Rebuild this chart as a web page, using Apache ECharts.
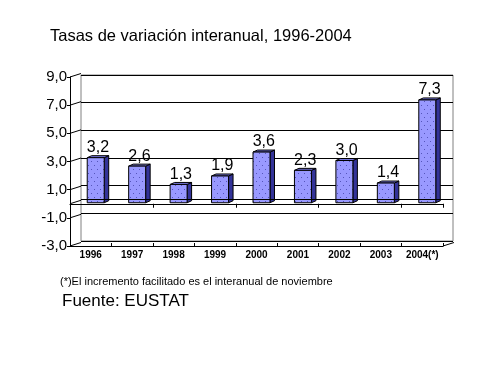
<!DOCTYPE html>
<html>
<head>
<meta charset="utf-8">
<script src="https://cdn.jsdelivr.net/npm/echarts@6/dist/echarts.min.js"></script>
<style>html,body{margin:0;padding:0;background:#fff;}#c{width:487px;height:387px;}</style>
</head>
<body>
<div id="c"></div>
<script>
const categories = ['1996','1997','1998','1999','2000','2001','2002','2003','2004(*)'];
const values = [3.2, 2.6, 1.3, 1.9, 3.6, 2.3, 3.0, 1.4, 7.3];
const yTicks = [-3, -1, 0, 1, 3, 5, 7, 9];
const titleText = 'Tasas de variación interanual, 1996-2004';
const noteText = '(*)El incremento facilitado es el interanual de noviembre';
const sourceText = 'Fuente: EUSTAT';

const FONT = '"Liberation Sans", Arial, sans-serif';
const fmt = v => v.toFixed(1).replace('.', ',');

// dotted fill pattern for the bar front faces
const pc = document.createElement('canvas');
pc.width = 6; pc.height = 8;
const pctx = pc.getContext('2d');
pctx.fillStyle = '#9999ff'; pctx.fillRect(0, 0, 6, 8);
pctx.fillStyle = '#5555bb';
pctx.fillRect(1, 1, 1, 1); pctx.fillRect(4, 5, 1, 1);

const DX = 4.5, DY = -2;     // bar depth projection
const SX = 5, SY = -1;       // bar placement at mid depth
const WX = 11, WY = -3.5;    // side wall depth projection

function renderBar(params, api) {
  const idx = api.value(0), v = api.value(1);
  const top = api.coord([idx, v]);
  const base = api.coord([idx, 0]);
  const w = api.size([1, 0])[0] * 0.41;
  const x0 = top[0] + SX - w / 2, x1 = x0 + w;
  const yt = top[1] + SY, yb = base[1] + SY;
  return {
    type: 'group',
    children: [
      { type: 'polygon', shape: { points: [[x1, yb], [x1 + DX, yb + DY], [x1 + DX, yt + DY], [x1, yt]] },
        style: { fill: '#333399', stroke: '#000', lineWidth: 1 } },
      { type: 'polygon', shape: { points: [[x0, yt], [x0 + DX, yt + DY], [x1 + DX, yt + DY], [x1, yt]] },
        style: { fill: '#7777dd', stroke: '#000', lineWidth: 1 } },
      { type: 'rect', shape: { x: x0, y: yt, width: w, height: yb - yt },
        style: { fill: { image: pc, repeat: 'repeat' }, stroke: '#000', lineWidth: 1 } },
      { type: 'text', x: (x0 + x1 + DX) / 2, y: yt - 2,
        style: { text: fmt(v), font: '16px ' + FONT, fill: '#000', align: 'center', verticalAlign: 'bottom' } }
    ]
  };
}

function renderWall(params, api) {
  const v = api.value(0);
  const half = api.size([1, 0])[0] / 2;
  const p = api.coord([0, v]);
  const xl = p[0] - half;
  const children = [
    { type: 'line', shape: { x1: xl, y1: p[1], x2: xl + WX, y2: p[1] + WY }, style: { stroke: '#000', lineWidth: 1 } }
  ];
  if (v === -3) {
    const q = api.coord([categories.length - 1, v]);
    const xr = q[0] + half;
    children.push({ type: 'line', shape: { x1: xr, y1: q[1], x2: xr + WX, y2: q[1] + WY }, style: { stroke: '#000', lineWidth: 1 } });
  }
  return { type: 'group', children };
}

const chart = echarts.init(document.getElementById('c'), null, { renderer: 'canvas' });
chart.setOption({
  backgroundColor: '#fff',
  animation: false,
  title: [
    { text: titleText, left: 50, top: 28, padding: 0,
      textStyle: { fontFamily: FONT, fontSize: 16.5, fontWeight: 'normal', color: '#000' } },
    { text: noteText, left: 60, top: 276, padding: 0,
      textStyle: { fontFamily: FONT, fontSize: 11, fontWeight: 'normal', color: '#000' } },
    { text: sourceText, left: 62, top: 293, padding: 0,
      textStyle: { fontFamily: FONT, fontSize: 17, fontWeight: 'normal', color: '#000' } }
  ],
  grid: [
    { left: 81, top: 75, width: 372, height: 166, show: true, borderColor: '#808080', borderWidth: 1, backgroundColor: 'transparent' },
    { left: 70, top: 77, width: 373, height: 169 }
  ],
  xAxis: [
    { gridIndex: 0, type: 'category', data: categories, show: false },
    { gridIndex: 1, type: 'category', data: categories, position: 'bottom',
      axisLine: { onZero: true, lineStyle: { color: '#000', width: 1 } },
      axisTick: { show: true, length: 4, lineStyle: { color: '#000' } },
      axisLabel: { show: false } },
    { gridIndex: 1, type: 'category', data: categories, position: 'bottom',
      axisLine: { onZero: false, lineStyle: { color: '#000', width: 1 } },
      axisTick: { show: true, inside: true, length: 3, lineStyle: { color: '#000' } },
      axisLabel: { show: true, margin: 4, fontFamily: FONT, fontSize: 10, fontWeight: 'bold', color: '#000', interval: 0 } }
  ],
  yAxis: [
    { gridIndex: 0, type: 'value', min: -3, max: 9, interval: 2,
      axisLine: { show: false }, axisTick: { show: false }, axisLabel: { show: false },
      splitLine: { show: true, lineStyle: { color: '#000', width: 1 } } },
    { gridIndex: 1, type: 'value', min: -3, max: 9, interval: 2,
      axisLine: { show: true, onZero: false, lineStyle: { color: '#000', width: 1 } },
      axisTick: { show: true, length: 3, lineStyle: { color: '#000' } },
      axisLabel: { show: true, margin: 3, fontFamily: FONT, fontSize: 15, color: '#000', formatter: fmt },
      splitLine: { show: false } }
  ],
  series: [
    { type: 'line', xAxisIndex: 0, yAxisIndex: 0, data: [], silent: true,
      markLine: { silent: true, symbol: 'none', label: { show: false },
        lineStyle: { color: '#000', width: 1, type: 'solid' }, data: [{ yAxis: 0 }] } },
    { type: 'custom', xAxisIndex: 1, yAxisIndex: 1, silent: true,
      data: yTicks.map(v => [v]), encode: { y: 0 }, renderItem: renderWall, clip: false },
    { type: 'custom', xAxisIndex: 1, yAxisIndex: 1, silent: true,
      data: values.map((v, i) => [i, v]), encode: { x: 0, y: 1 }, renderItem: renderBar, clip: false }
  ]
});
</script>
</body>
</html>
